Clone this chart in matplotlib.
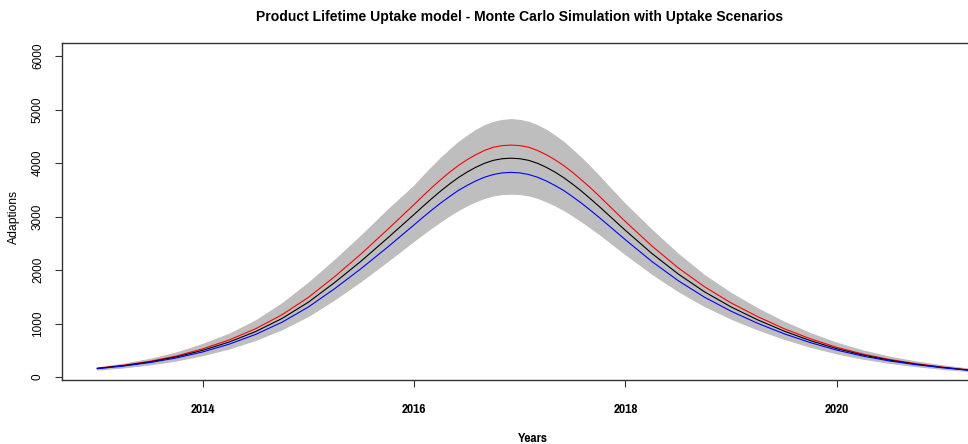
import numpy as np
from matplotlib import pyplot as plt
from matplotlib import font_manager

# months after Jan 2013: quarterly on the tails, monthly around the peak
months = list(range(0, 36, 3)) + list(range(36, 61)) + list(range(63, 100, 3))
years = [2013 + m / 12 for m in months]

mean_line = [160, 213, 283, 376, 500, 655, 850, 1095, 1400, 1770, 2170, 2600,
             3040, 3190, 3335, 3475, 3605, 3725, 3830, 3920, 3995, 4050, 4080, 4090,
             4080, 4050, 3995, 3920, 3830, 3725, 3605, 3475, 3335, 3190, 3040, 2890, 2740,
             2310, 1925, 1590, 1310, 1070, 860, 680, 530, 410, 315, 240, 180, 130]
high_line = [165, 220, 294, 393, 527, 694, 903, 1165, 1490, 1880, 2305, 2760,
             3225, 3385, 3540, 3685, 3825, 3950, 4060, 4155, 4235, 4295, 4325, 4335,
             4325, 4295, 4235, 4155, 4060, 3950, 3825, 3685, 3540, 3385, 3225, 3065, 2905,
             2450, 2040, 1685, 1385, 1130, 905, 715, 555, 428, 328, 249, 186, 134]
low_line = [155, 205, 270, 357, 470, 615, 797, 1025, 1310, 1655, 2030, 2430,
            2845, 2985, 3120, 3250, 3370, 3485, 3580, 3665, 3735, 3785, 3815, 3825,
            3815, 3785, 3735, 3665, 3580, 3485, 3370, 3250, 3120, 2985, 2845, 2705, 2565,
            2160, 1800, 1490, 1230, 1005, 810, 643, 503, 390, 300, 230, 173, 125]
sim_upper = [180, 250, 340, 460, 620, 810, 1060, 1380, 1765, 2195, 2650, 3130,
             3580, 3760, 3930, 4095, 4245, 4390, 4510, 4620, 4705, 4770, 4805, 4820,
             4805, 4770, 4705, 4620, 4510, 4390, 4245, 4095, 3930, 3760, 3580, 3405, 3230,
             2750, 2300, 1900, 1570, 1285, 1035, 820, 640, 495, 380, 290, 218, 158]
sim_lower = [140, 180, 235, 310, 410, 535, 695, 895, 1145, 1455, 1800, 2170,
             2550, 2675, 2795, 2910, 3020, 3120, 3210, 3285, 3350, 3395, 3420, 3428,
             3420, 3395, 3350, 3285, 3210, 3120, 3020, 2910, 2795, 2675, 2550, 2420, 2295,
             1930, 1605, 1325, 1090, 890, 715, 565, 442, 342, 265, 203, 153, 112]

xticks = [2014, 2016, 2018, 2020]
yticks = [0, 1000, 2000, 3000, 4000, 5000, 6000]

narrow_file = None
for f in font_manager.fontManager.ttflist:
    fn = f.fname.replace('-', '').replace('_', '')
    if 'NarrowBold' in fn or 'CondensedBold' in fn:
        narrow_file = f.fname
        if 'Narrow' in fn:
            break
if narrow_file:
    narrow = font_manager.FontProperties(fname=narrow_file)
else:
    narrow = font_manager.FontProperties(family='DejaVu Sans', weight='bold')
narrow.set_size(10.5)
sans = ['Liberation Sans', 'DejaVu Sans']

fig = plt.figure(figsize=(9.68, 4.44), dpi=100)
ax = fig.add_axes([62/968, 64/444, 942/968, 337/444])

ax.fill_between(years, sim_lower, sim_upper, color='#bebebe', lw=0.8)
ax.plot(years, high_line, color='red', lw=0.8)
ax.plot(years, mean_line, color='black', lw=0.8)
ax.plot(years, low_line, color='blue', lw=0.8)

ax.set_xlim(2012.666, 2021.584)
ax.set_ylim(-56, 6243)

for s in ax.spines.values():
    s.set_color('#333333')
    s.set_linewidth(1)

ax.set_xticks(xticks)
ax.set_xticklabels([str(x) for x in xticks])
for lab in ax.get_xticklabels():
    lab.set_fontproperties(narrow)
ax.set_yticks(yticks)
ax.set_yticklabels([str(y) for y in yticks], rotation=90, va='center', fontsize=8.5, family=sans)
ax.tick_params(axis='x', length=5, color='#333333', pad=12.5)
ax.tick_params(axis='y', length=5, color='#333333', pad=8)

fig.text(520/968, 1 - 17/444, 'Product Lifetime Uptake model - Monte Carlo Simulation with Uptake Scenarios',
         ha='center', va='center', fontsize=10.1, fontweight='bold', family=sans)
fig.text(14/968, 1 - 217/444, 'Adaptions', rotation=90, ha='center', va='center', fontsize=8.7, family=sans)
fig.text(533/968, 1 - 438/444, 'Years', ha='center', va='center', fontproperties=narrow)

fig.savefig('out.png', dpi=100)
